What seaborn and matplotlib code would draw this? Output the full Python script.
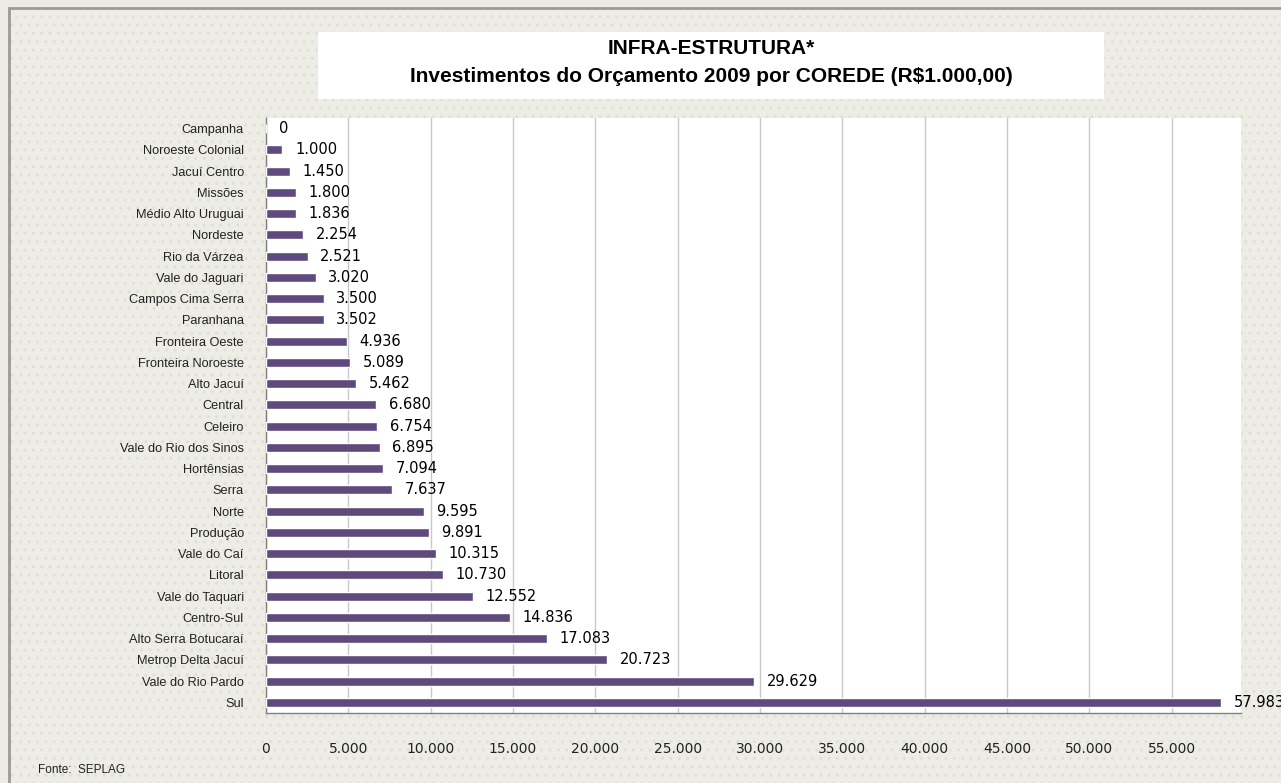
import numpy as np
import pandas as pd
import matplotlib
matplotlib.use("Agg")
import matplotlib.pyplot as plt
import matplotlib.patches as patches
import seaborn as sns

# dados (R$ 1.000,00)
coredes = ['Campanha', 'Noroeste Colonial', 'Jacuí Centro', 'Missões', 'Médio Alto Uruguai',
           'Nordeste', 'Rio da Várzea', 'Vale do Jaguari', 'Campos Cima Serra', 'Paranhana',
           'Fronteira Oeste', 'Fronteira Noroeste', 'Alto Jacuí', 'Central', 'Celeiro',
           'Vale do Rio dos Sinos', 'Hortênsias', 'Serra', 'Norte', 'Produção',
           'Vale do Caí', 'Litoral', 'Vale do Taquari', 'Centro-Sul', 'Alto Serra Botucaraí',
           'Metrop Delta Jacuí', 'Vale do Rio Pardo', 'Sul']
investimentos = [0, 1000, 1450, 1800, 1836, 2254, 2521, 3020, 3500, 3502,
                 4936, 5089, 5462, 6680, 6754, 6895, 7094, 7637, 9595, 9891,
                 10315, 10730, 12552, 14836, 17083, 20723, 29629, 57983]
x_ticks = list(range(0, 55001, 5000))

df = pd.DataFrame({'corede': coredes, 'valor': investimentos})

def fmt_br(v):
    return f"{v:,}".replace(",", ".")

sns.set_style("white")
plt.rcParams['font.family'] = ['Liberation Sans', 'DejaVu Sans']

fig = plt.figure(figsize=(12.81, 7.83), dpi=100)
fig.patch.set_facecolor('#ECECE4')

# moldura cinza e fundo pontilhado
bg = patches.Rectangle((9 / 1281, -0.01), 1.1, 1 - 8 / 783 + 0.01, transform=fig.transFigure,
                       facecolor='#EDEDE6', edgecolor='#E0E0D8', hatch='..', linewidth=0, zorder=-10)
fig.patches.append(bg)
frame = patches.Rectangle((9 / 1281, -0.01), 1.1, 1 - 8 / 783 + 0.01, transform=fig.transFigure,
                          facecolor='none', edgecolor='#9A9A9A', linewidth=2, zorder=-9)
fig.patches.append(frame)

ax = fig.add_axes([266 / 1281, 1 - 713 / 783, (1241 - 266) / 1281, (713 - 118) / 783])
ax.set_facecolor('white')

sns.barplot(data=df, x='valor', y='corede', orient='h', color='#5F4A7D',
            width=0.42, saturation=1, ax=ax, zorder=3)

ax.bar_label(ax.containers[0], labels=[fmt_br(v) for v in investimentos],
             padding=9, fontsize=10.5, color='black', family='DejaVu Sans')

ax.set_xlim(0, 59200)
ax.set_ylim(len(coredes) - 0.5, -0.5)
ax.set_xticks(x_ticks)
ax.set_xticklabels([fmt_br(v) for v in x_ticks], family='DejaVu Sans')
ax.xaxis.grid(True, color='#C8C8C8', linewidth=1, zorder=0)
ax.yaxis.grid(False)
ax.set_xlabel('')
ax.set_ylabel('')

for side in ['top', 'right']:
    ax.spines[side].set_visible(False)
for side in ['left', 'bottom']:
    ax.spines[side].set_color('#808080')
    ax.spines[side].set_linewidth(1)

ax.tick_params(axis='x', direction='out', length=5, width=1, color='#808080',
               labelsize=10, pad=16, labelcolor='#222222')
ax.tick_params(axis='y', which='major', length=0, labelsize=9.2, pad=16, labelcolor='#222222')
ax.set_yticks(np.arange(-0.5, len(coredes), 1), minor=True)
ax.tick_params(axis='y', which='minor', direction='out', length=5, width=1, color='#808080')

# caixa de título
title_box = patches.Rectangle((318 / 1281, 1 - 99 / 783), (1104 - 318) / 1281, 67 / 783,
                              transform=fig.transFigure, facecolor='white', edgecolor='none', zorder=1)
fig.patches.append(title_box)
fig.text(0.555, 1 - 48 / 783, 'INFRA-ESTRUTURA*', ha='center', va='center',
         fontsize=15, fontweight='bold', color='black')
fig.text(0.555, 1 - 77 / 783, 'Investimentos do Orçamento 2009 por COREDE (R$1.000,00)',
         ha='center', va='center', fontsize=15, fontweight='bold', color='black')

fig.text(38 / 1281, 1 - 770 / 783, 'Fonte:  SEPLAG', ha='left', va='center', fontsize=8.5,
         color='#222222')

fig.savefig('out.png', dpi=100, facecolor=fig.get_facecolor())
